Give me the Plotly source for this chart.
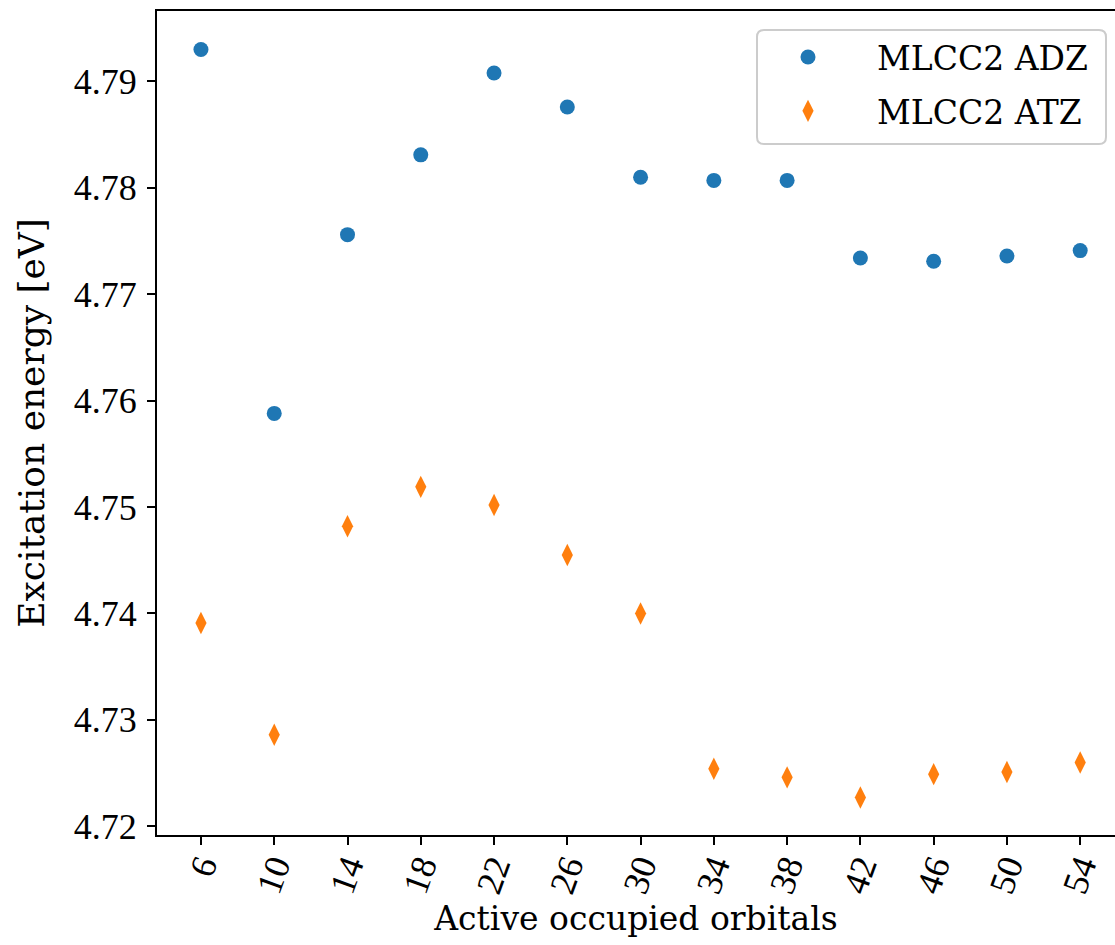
import plotly.graph_objects as go

# Number of active occupied orbitals
orbitals = [6, 10, 14, 18, 22, 26, 30, 34, 38, 42, 46, 50, 54]

# Excitation energies [eV]
mlcc2_adz = [4.7930, 4.7588, 4.7756, 4.7831, 4.7908, 4.7876, 4.7810,
             4.7807, 4.7807, 4.7734, 4.7731, 4.7736, 4.7741]
mlcc2_atz = [4.7391, 4.7286, 4.7482, 4.7519, 4.7502, 4.7455, 4.7400,
             4.7254, 4.7246, 4.7227, 4.7249, 4.7251, 4.7260]

y_ticks = [4.72, 4.73, 4.74, 4.75, 4.76, 4.77, 4.78, 4.79]

TICK_FONT = "Liberation Serif"
TEXT_FONT = "DejaVu Serif"
FS = 36

fig = go.Figure()
fig.add_trace(go.Scatter(
    x=orbitals, y=mlcc2_adz, mode="markers", name="MLCC2 ADZ", legendgroup="adz",
    marker=dict(symbol="circle", size=15, color="#1f77b4", line=dict(width=0)),
))
fig.add_trace(go.Scatter(
    x=orbitals, y=mlcc2_atz, mode="markers", name="MLCC2 ATZ", legendgroup="atz",
    marker=dict(symbol="diamond-tall", size=16, color="#ff7f0e", line=dict(width=0)),
))

# canvas and plot-area geometry (pixels)
W, H = 1115, 945
L, T, B = 157, 11, 110
pw, ph = W - L, H - T - B


def px(xp):
    return (xp - L) / pw


def py(yp):
    return 1 - (yp - T) / ph


# rounded legend frame
x0, x1, y0, y1, r = 757, 1106, 30, 144, 7
path = (f"M {px(x0 + r)} {py(y0)} L {px(x1 - r)} {py(y0)} "
        f"Q {px(x1)} {py(y0)} {px(x1)} {py(y0 + r)} "
        f"L {px(x1)} {py(y1 - r)} Q {px(x1)} {py(y1)} {px(x1 - r)} {py(y1)} "
        f"L {px(x0 + r)} {py(y1)} Q {px(x0)} {py(y1)} {px(x0)} {py(y1 - r)} "
        f"L {px(x0)} {py(y0 + r)} Q {px(x0)} {py(y0)} {px(x0 + r)} {py(y0)} Z")
fig.add_shape(type="path", path=path, xref="paper", yref="paper",
              line=dict(color="#cccccc", width=2), fillcolor="rgba(255,255,255,0.8)",
              layer="above")

fig.update_layout(
    width=W, height=H,
    margin=dict(l=L, r=0, t=T, b=B),
    paper_bgcolor="white", plot_bgcolor="white",
    font=dict(family=TICK_FONT, size=FS, color="black"),
    showlegend=True,
    legend=dict(
        x=px(739), y=py(29), xanchor="left", yanchor="top",
        bgcolor="rgba(0,0,0,0)", borderwidth=0, tracegroupgap=8,
        font=dict(family=TEXT_FONT, size=33), itemwidth=128,
    ),
    xaxis=dict(
        range=[3.6, 55.9], tickmode="array", tickvals=orbitals,
        ticktext=[str(v) for v in orbitals], tickangle=-70,
        tickfont=dict(family=TICK_FONT, size=FS),
        showline=True, linecolor="black", linewidth=2, mirror=True,
        ticks="outside", ticklen=8, tickwidth=2, tickcolor="black",
        showgrid=False, zeroline=False, ticklabelstandoff=-14,
        automargin=False,
        title=dict(text="Active occupied orbitals", standoff=8,
                   font=dict(family=TEXT_FONT, size=33)),
    ),
    yaxis=dict(
        range=[4.71918, 4.79662], tickmode="array", tickvals=y_ticks,
        ticktext=[f"{v:.2f}" for v in y_ticks],
        tickfont=dict(family=TICK_FONT, size=FS),
        showline=True, linecolor="black", linewidth=2, mirror=False,
        ticks="outside", ticklen=8, tickwidth=2, tickcolor="black",
        showgrid=False, zeroline=False, ticklabelstandoff=3,
        automargin=False,
        title=dict(text="Excitation energy [eV]", standoff=18,
                   font=dict(family=TEXT_FONT, size=36)),
    ),
)

fig.write_html("out.html")
